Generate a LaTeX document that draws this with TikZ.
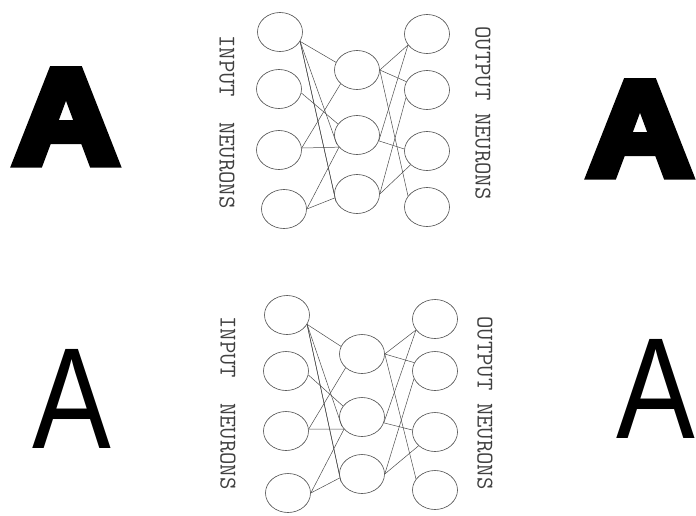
\documentclass[tikz,border=0pt]{standalone}
\usepackage{fontspec}
\setmainfont{Liberation Sans}
\newfontfamily\heavyfont[BoldFeatures={FakeBold=7}]{Liberation Sans}
\usetikzlibrary{shapes.geometric}

\begin{document}
\begin{tikzpicture}[
    x=1pt, y=-1pt,
    neuron/.style={ellipse, draw=black!70, line width=0.6pt, minimum width=45pt,
                   minimum height=39pt, inner sep=0pt},
    syn/.style={draw=black!70, line width=0.5pt},
    tag/.style={font=\ttfamily\fontsize{24}{24}\selectfont, text=black!75,
                rotate=-90, inner sep=0pt},
    heavyA/.style={font=\heavyfont\bfseries\fontsize{134}{134}\selectfont,
                   anchor=base, inner sep=0pt},
    thinA/.style={font=\fontsize{144}{144}\selectfont, anchor=base, inner sep=0pt}
]
    \useasboundingbox (0,0) rectangle (696,515);

    % Bold letters
    \node[heavyA] (boldin) at (66,163) {\scalebox{1.08}[1]{A}};
    \node[heavyA] (boldout) at (640,175) {\scalebox{1.08}[1]{A}};
    % Plain letters
    \node[thinA] (plainin) at (72,448) {\scalebox{0.82}[1]{A}};
    \node[thinA] (plainout) at (656,438) {\scalebox{0.82}[1]{A}};

    % Upper net
    \node[neuron] (tin1) at (280,32) {};
    \node[neuron] (tin2) at (279,89) {};
    \node[neuron] (tin3) at (279,150) {};
    \node[neuron] (tin4) at (284,209) {};
    \node[neuron] (thid1) at (357,70) {};
    \node[neuron] (thid2) at (357,135) {};
    \node[neuron] (thid3) at (357,194) {};
    \node[neuron] (tout1) at (427,34) {};
    \node[neuron] (tout2) at (427,90) {};
    \node[neuron] (tout3) at (427,151) {};
    \node[neuron] (tout4) at (427,207) {};
    \node[tag] (tinlabel) at (227,122) {INPUT~~NEURONS};
    \node[tag] (toutlabel) at (483,113) {OUTPUT NEURONS};

    \draw[syn] (tin1.-25) -- (thid1.160);
    \draw[syn] (tin1.-25) -- (thid2.205);
    \draw[syn] (tin1.-25) -- (thid3.180);
    \draw[syn] (tin1.-25) -- (thid3.200);
    \draw[syn] (tin2.-10) -- (thid2.150);
    \draw[syn] (tin3.5) -- (thid1.220);
    \draw[syn] (tin3.5) -- (thid2.214);
    \draw[syn] (tin4.0) -- (thid2.214);
    \draw[syn] (tin4.0) -- (thid3.190);
    \draw[syn] (thid1.0) -- (tout1.210);
    \draw[syn] (thid1.0) -- (tout2.158);
    \draw[syn] (thid1.0) -- (tout4.150);
    \draw[syn] (thid2.-15) -- (tout1.210);
    \draw[syn] (thid2.-15) -- (tout3.175);
    \draw[syn] (thid3.0) -- (tout2.200);
    \draw[syn] (thid3.0) -- (tout3.220);

    % Lower net
    \node[neuron] (bin1) at (287,315) {};
    \node[neuron] (bin2) at (286,371) {};
    \node[neuron] (bin3) at (286,431) {};
    \node[neuron] (bin4) at (288,493) {};
    \node[neuron] (bhid1) at (362,354) {};
    \node[neuron] (bhid2) at (362,417) {};
    \node[neuron] (bhid3) at (362,474) {};
    \node[neuron] (bout1) at (435,319) {};
    \node[neuron] (bout2) at (435,371) {};
    \node[neuron] (bout3) at (435,432) {};
    \node[neuron] (bout4) at (435,490) {};
    \node[tag] (binlabel) at (228,403) {INPUT~~NEURONS};
    \node[tag] (boutlabel) at (485,403) {OUTPUT NEURONS};

    \draw[syn] (bin1.-25) -- (bhid1.160);
    \draw[syn] (bin1.-25) -- (bhid2.205);
    \draw[syn] (bin1.-25) -- (bhid3.180);
    \draw[syn] (bin1.-25) -- (bhid3.200);
    \draw[syn] (bin2.-10) -- (bhid2.150);
    \draw[syn] (bin3.5) -- (bhid1.220);
    \draw[syn] (bin3.5) -- (bhid2.214);
    \draw[syn] (bin4.0) -- (bhid2.214);
    \draw[syn] (bin4.0) -- (bhid3.190);
    \draw[syn] (bhid1.0) -- (bout1.210);
    \draw[syn] (bhid1.0) -- (bout2.158);
    \draw[syn] (bhid1.0) -- (bout4.150);
    \draw[syn] (bhid2.-15) -- (bout1.210);
    \draw[syn] (bhid2.-15) -- (bout3.175);
    \draw[syn] (bhid3.0) -- (bout2.200);
    \draw[syn] (bhid3.0) -- (bout3.220);
\end{tikzpicture}
\end{document}
